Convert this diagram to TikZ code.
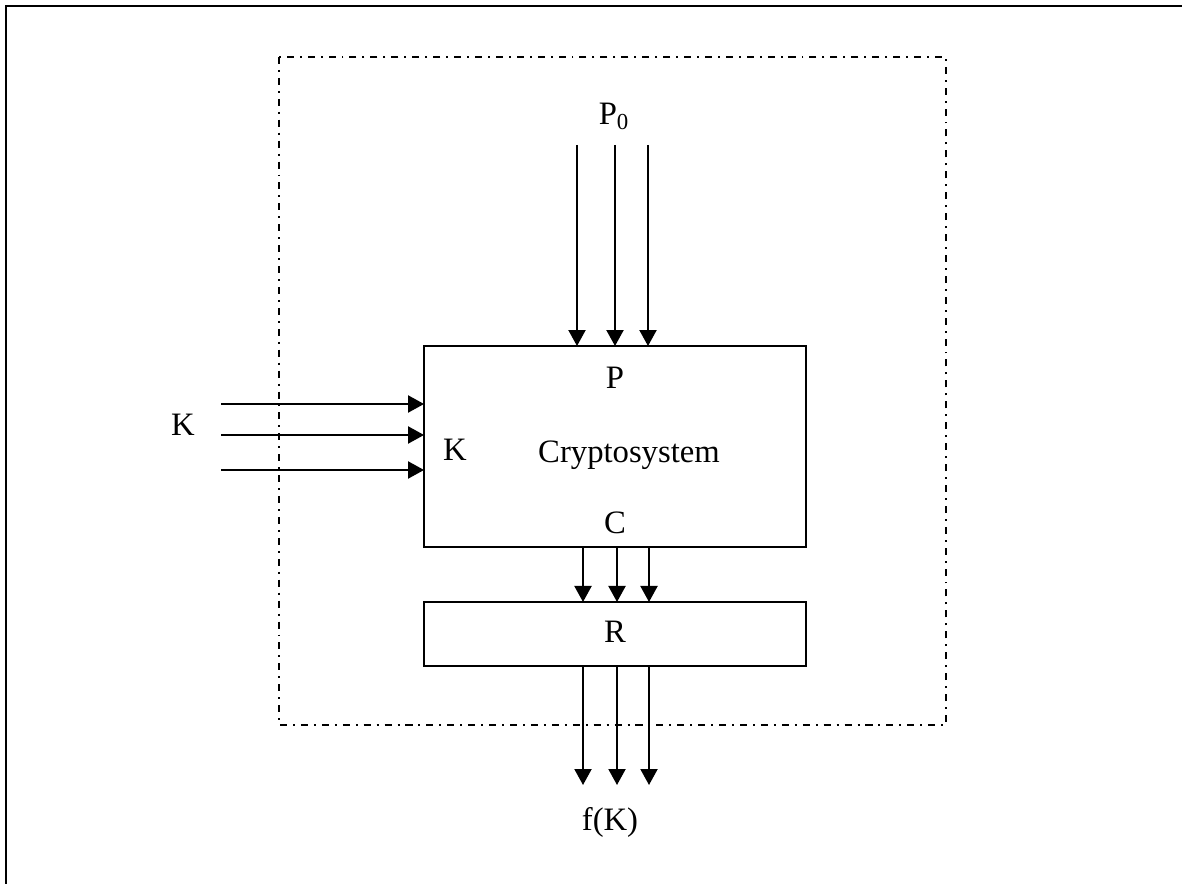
\documentclass[tikz,border=0pt]{standalone}
\usepackage{fontspec}
\setmainfont{Liberation Serif}
\usetikzlibrary{arrows.meta,positioning}

\begin{document}
\begin{tikzpicture}[x=0.02cm, y=-0.02cm,
        > = {Triangle[length=0.32cm,width=0.34cm]},
every node/.style = {font=\fontsize{18.6}{22}\selectfont},
      box/.style = {rectangle, draw, line width=1.2pt, inner sep=0pt, outer sep=0pt},
      lbl/.style = {inner sep=0pt, anchor=base},
     wire/.style = {->, line width=1.2pt},
    frame/.style = {line width=1.1pt, dash pattern=on 4pt off 3.4pt on 1.1pt off 3.4pt}
]
\useasboundingbox (0,0) rectangle (1182,884);
% page frame (only top and left edge visible)
\draw[line width=1.4pt] (6,890) -- (6,6) -- (1190,6);
% system boundary
\draw[frame] (279,57) rectangle (946,725);

\node (crypto) [box, minimum width=7.64cm, minimum height=4.02cm] at (615,446.5) {};
\node (rbox)   [box, minimum width=7.64cm, minimum height=1.28cm, below=1.1cm of crypto] {};

\node (p0)  [lbl] at (614,125) {P\textsubscript{0}};
\node (kout)[lbl] at (183,436) {K};
\node (p)   [lbl] at (615,389) {P};
\node (kin) [lbl] at (455,460) {K};
\node (cs)  [lbl] at (629,463) {Cryptosystem};
\node (c)   [lbl] at (615,533) {C};
\node (r)   [lbl] at (615,642) {R};
\node (fk)  [lbl] at (610,830) {f(K)};

\foreach \x [count=\i] in {577,615,648} {
  \coordinate (ptop\i) at (\x,145);
  \draw[wire] (ptop\i) -- (ptop\i |- crypto.north);
}
\foreach \y [count=\i] in {404,435,470} {
  \coordinate (kleft\i) at (221,\y);
  \draw[wire] (kleft\i) -- (kleft\i -| crypto.west);
}
\foreach \x [count=\i] in {583,617,649} {
  \coordinate (cout\i) at (\x,785);
  \draw[wire] (cout\i |- crypto.south) -- (cout\i |- rbox.north);
  \draw[wire] (cout\i |- rbox.south) -- (cout\i);
}
\end{tikzpicture}
\end{document}
